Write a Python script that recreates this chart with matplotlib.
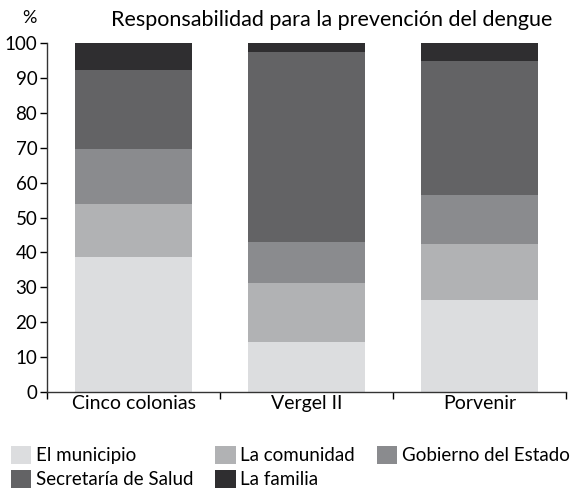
import matplotlib.pyplot as plt
import numpy as np

plt.rcParams['font.family'] = ['Lato', 'DejaVu Sans']

colonias = ['Cinco colonias', 'Vergel II', 'Porvenir']
series = ['El municipio', 'La comunidad', 'Gobierno del Estado',
          'Secretaría de Salud', 'La familia']
municipio = [38.7, 14.3, 26.3]
comunidad = [15.2, 16.9, 16.1]
gobierno = [15.8, 11.8, 14.1]
secretaria = [22.6, 54.5, 38.4]
familia = [7.7, 2.5, 5.1]
colores = ['#dcdddf', '#b1b2b4', '#8a8b8e', '#636365', '#2f2e30']

fig = plt.figure(figsize=(5.81, 4.90), dpi=100)
ax = fig.add_axes([47/581, 1 - 392/490, (566-47)/581, (392-43)/490])

x = np.arange(len(colonias))
base = np.zeros(len(colonias))
barras = []
for nombre, vals, c in zip(series, [municipio, comunidad, gobierno, secretaria, familia], colores):
    b = ax.bar(x, vals, width=0.676, bottom=base, color=c, label=nombre)
    barras.append(b)
    base += np.array(vals)

ax.set_xlim(-0.5, 2.5)
ax.set_ylim(0, 100)
ax.set_yticks(range(0, 101, 10))
ax.set_xticks(x)
ax.set_xticklabels(colonias)
ax.set_xticks([-0.5, 0.5, 1.5, 2.5], minor=True)
ax.tick_params(axis='x', which='major', length=0, labelsize=14, pad=2)
ax.tick_params(axis='x', which='minor', length=5, direction='out', width=1)
ax.tick_params(axis='y', length=5, labelsize=13.5, width=1, pad=2)
for s in ['top', 'right']:
    ax.spines[s].set_visible(False)
for s in ['left', 'bottom']:
    ax.spines[s].set_linewidth(1)
    ax.spines[s].set_color('#333333')

fig.text(22/581, 1 - 18/490, '%', fontsize=13, ha='left', va='center')
fig.text(332/581, 1 - 20/490, 'Responsabilidad para la prevención del dengue',
         fontsize=15.5, ha='center', va='center')

orden = [0, 3, 1, 4, 2]
fig.legend([barras[i] for i in orden], [series[i] for i in orden],
           ncol=3, loc='upper left', bbox_to_anchor=(3/581, 1 - 438/490),
           frameon=False, fontsize=13.5, handlelength=1.1, handleheight=1.1,
           handletextpad=0.25, columnspacing=1.15, labelspacing=0.3,
           borderaxespad=0.0)

fig.savefig('out.png', dpi=100)
